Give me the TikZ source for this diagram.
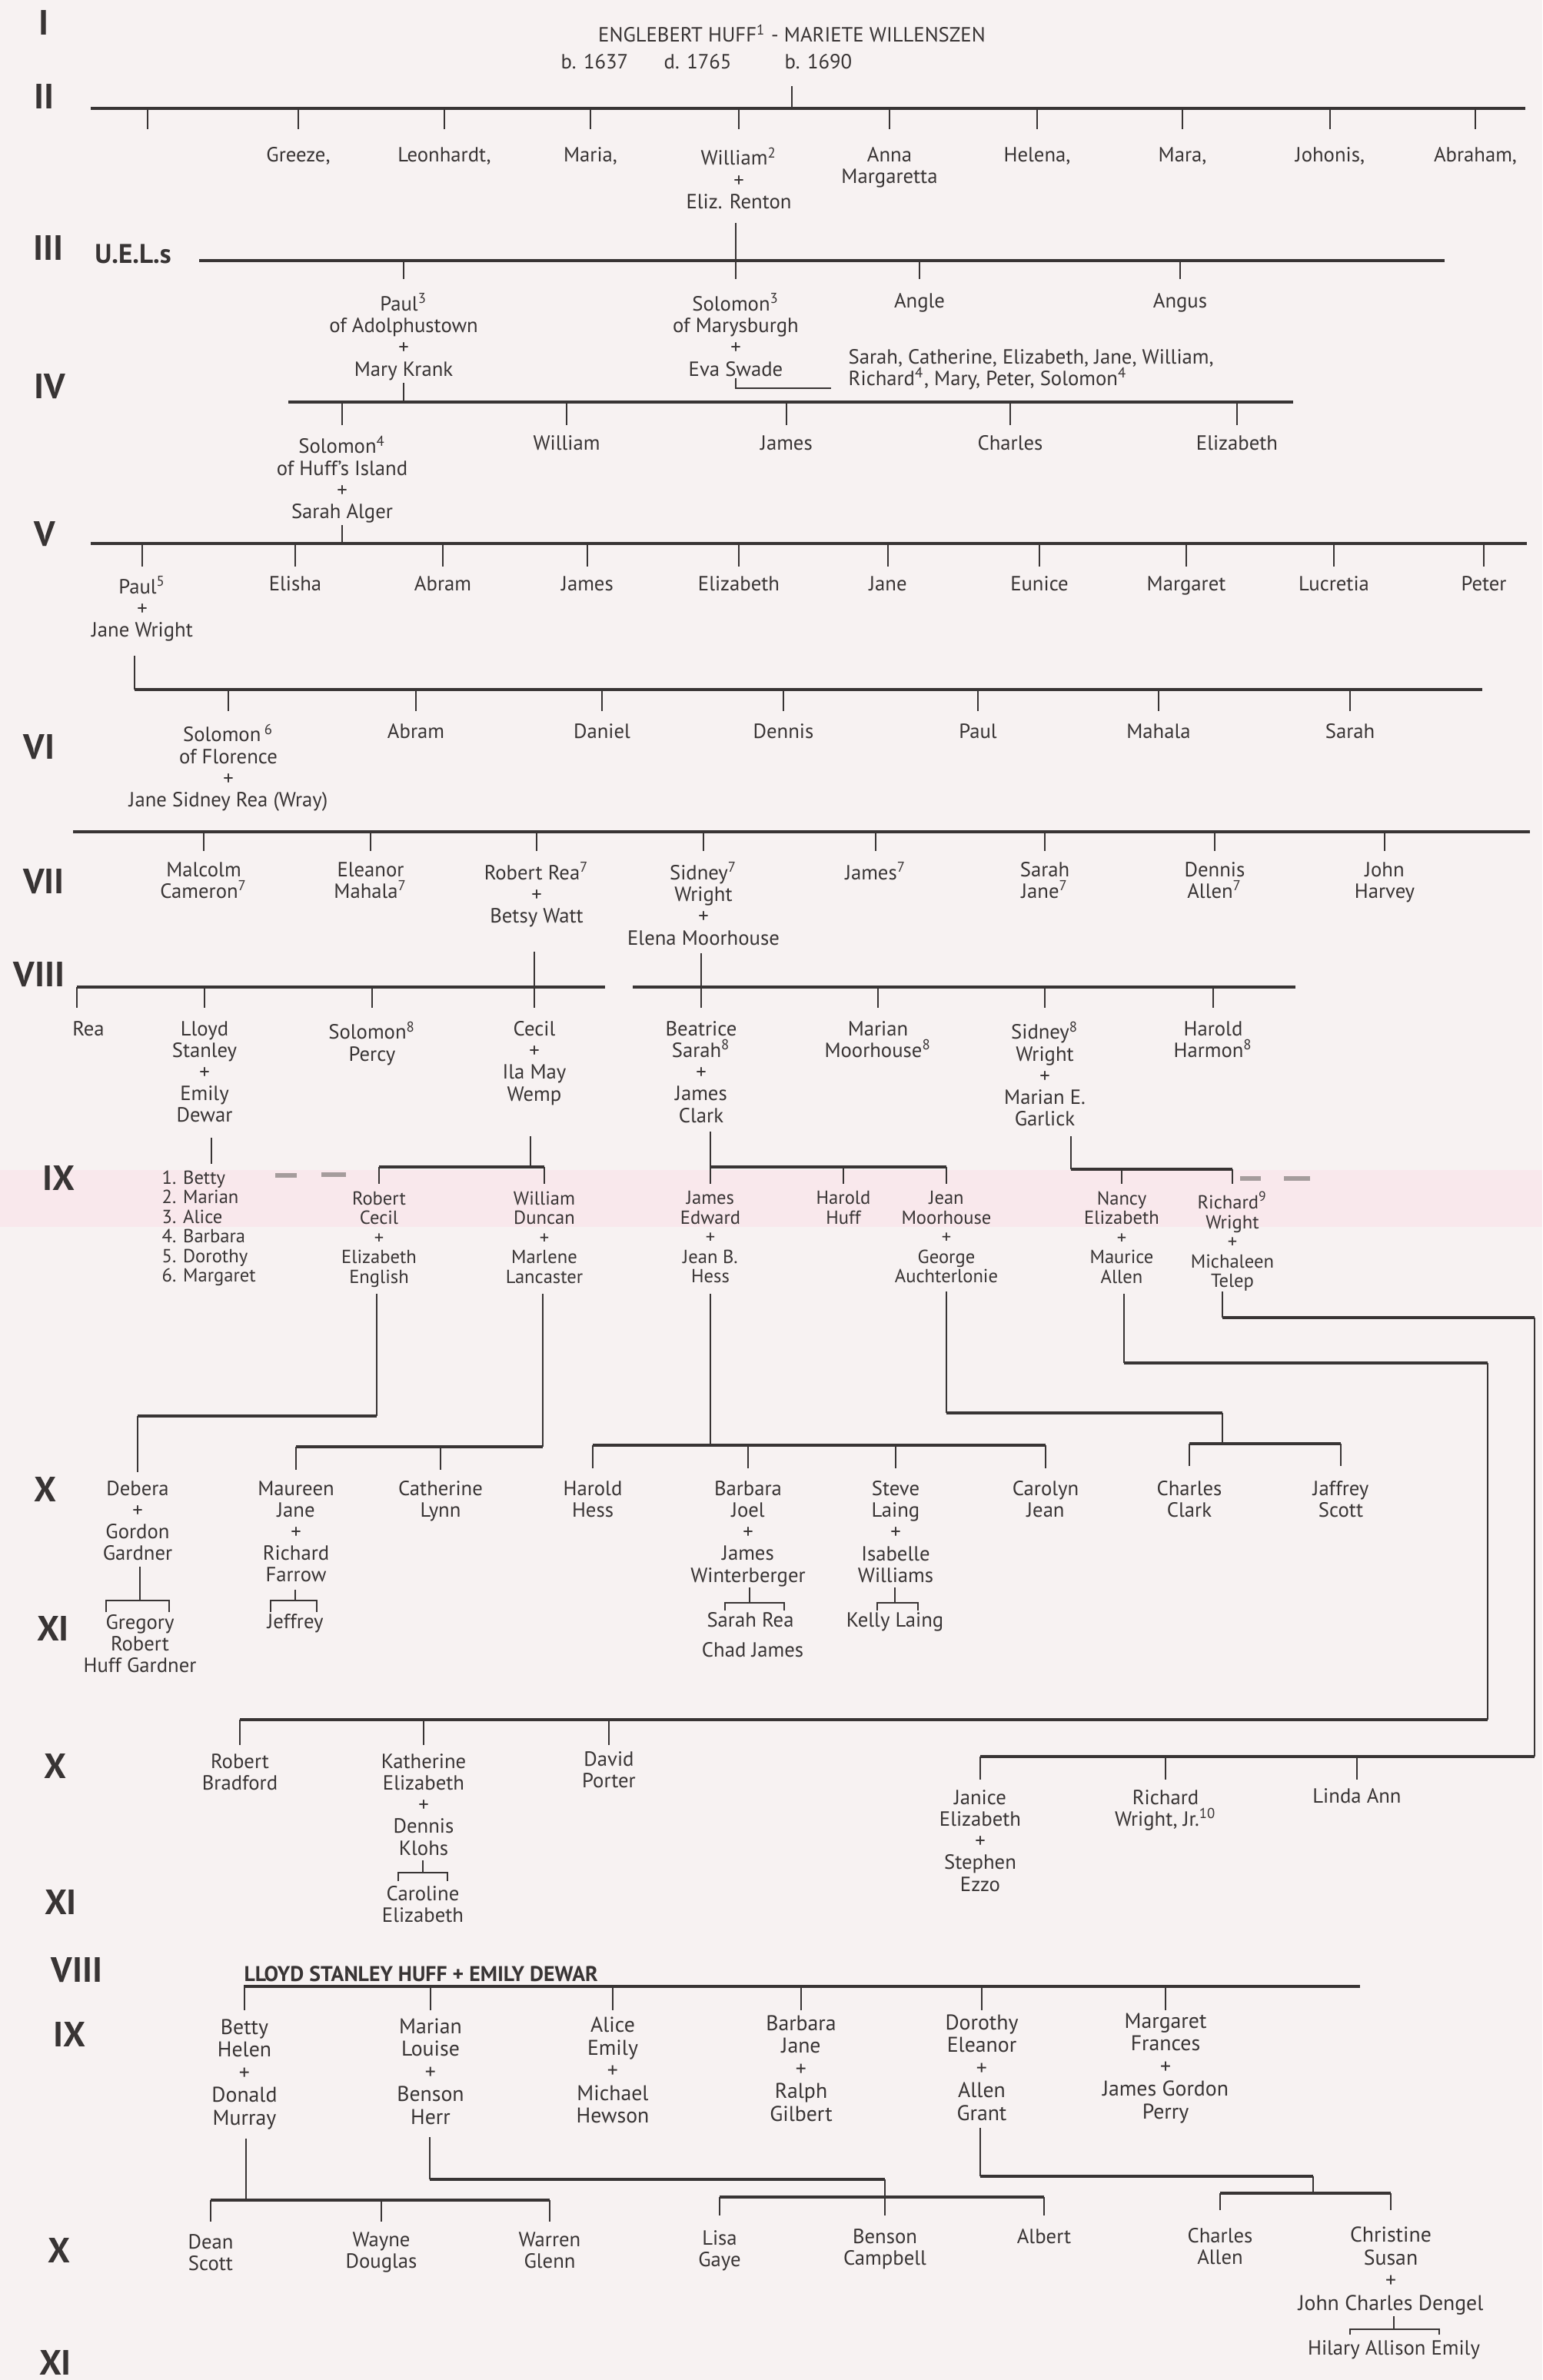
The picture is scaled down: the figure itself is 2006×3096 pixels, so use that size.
\documentclass[tikz,border=0pt]{standalone}
\usepackage{fontspec}
\setmainfont{PT Sans}
\usetikzlibrary{calc}
\definecolor{ink}{HTML}{383434}
\definecolor{paper}{HTML}{F7F2F2}
\definecolor{band}{HTML}{F9E8EC}
\definecolor{smudge}{HTML}{A59C9C}
\newcommand{\nmf}{\fontsize{7.6}{8}\selectfont}
\newcommand{\smf}{\fontsize{7}{7.25}\selectfont}
\newcommand{\lgf}{\fontsize{7.9}{8.4}\selectfont}
\newcommand{\rnf}{\fontsize{13}{13}\selectfont\bfseries}
\newcommand{\genno}[1]{\textsuperscript{#1}}
\begin{document}
\begin{tikzpicture}[x=0.1mm,y=-0.1mm,
  bar/.style={ink,line width=1.1pt},
  tk/.style={ink,line width=0.55pt},
  mk/.style={smudge,line width=1.6pt},
  nm/.style={anchor=north,inner sep=0pt,align=center,text=ink,font=\nmf},
  sm/.style={nm,font=\smf},
  lg/.style={nm,font=\lgf},
  rn/.style={inner sep=0pt,text=ink,font=\rnf}]
\useasboundingbox (0,0) rectangle (2006,3096);
\fill[paper] (0,0) rectangle (2006,3096);
\fill[band] (0,1522) rectangle (2006,1596);

% generations I and II
\node[rn] (g1) at (57,29) {I};
\node[rn] (g2) at (58,125) {II};
\node[nm] (eh) at (1030,31) {ENGLEBERT HUFF\genno{1} - MARIETE WILLENSZEN};
\node[nm,anchor=north west] (ehd) at (729,70) {\makebox[13.4mm][l]{b. 1637}\makebox[15.7mm][l]{d. 1765}b. 1690};
\coordinate (b2l) at (118,141);
\coordinate (b2r) at (1984,141);
\draw[bar] (b2l) -- (b2r);
\draw[tk] (eh |- b2l) -- ++(0,-29);
\coordinate (c2) at (192,168);
\draw[tk] (c2 |- b2l) -- (c2);
\node[nm] (greeze) at (388,191) {Greeze,};
\node[nm] (leonhardt) at (578,191) {Leonhardt,};
\node[nm] (maria) at (768,191) {Maria,};
\node[nm] (william) at (961,191) {William\genno{2}\\+\\Eliz. Renton};
\node[nm] (anna) at (1157,191) {Anna\\Margaretta};
\node[nm] (helena) at (1349,191) {Helena,};
\node[nm] (mara) at (1538,191) {Mara,};
\node[nm] (johonis) at (1730,191) {Johonis,};
\node[nm] (abraham) at (1919,191) {Abraham,};
\foreach \n in {greeze,leonhardt,maria,william,anna,helena,mara,johonis,abraham}
  \draw[tk] (\n |- b2l) -- ++(0,27);

% generation III
\node[rn] (g3) at (63,322) {III};
\node[rn,font=\fontsize{10}{10}\selectfont\bfseries] (uel) at (173,330) {U.E.L.s};
\coordinate (b3l) at (259,339);
\coordinate (b3r) at (1879,339);
\draw[bar] (b3l) -- (b3r);
\node[nm] (paul3) at (525,381) {Paul\genno{3}\\of Adolphustown\\+\\Mary Krank};
\node[nm] (solomon3) at (957,381) {Solomon\genno{3}\\of Marysburgh\\+\\Eva Swade};
\node[nm] (angle) at (1196,381) {Angle};
\node[nm] (angus) at (1535,381) {Angus};
\node[nm,anchor=north west,align=left] (sibs) at (1103,454) {Sarah, Catherine, Elizabeth, Jane, William,\\Richard\genno{4}, Mary, Peter, Solomon\genno{4}};
\draw[tk] (solomon3 |- b3l) ++(0,-49) -- ++(0,73);
\foreach \n in {paul3,angle,angus}
  \draw[tk] (\n |- b3l) -- ++(0,24);
\coordinate (sibx) at (1081,505);
\draw[tk] (solomon3 |- sibx) ++(0,-13) |- (sibx);

% generation IV
\node[rn] (g4) at (65,503) {IV};
\coordinate (b4l) at (375,523);
\coordinate (b4r) at (1682,523);
\draw[bar] (b4l) -- (b4r);
\draw[tk] (paul3 |- b4l) -- ++(0,-25);
\node[nm] (solomon4) at (445,566) {Solomon\genno{4}\\of Huff’s Island\\+\\Sarah Alger};
\node[nm] (william4) at (737,566) {William};
\node[nm] (james4) at (1023,566) {James};
\node[nm] (charles4) at (1314,566) {Charles};
\node[nm] (elizabeth4) at (1609,566) {Elizabeth};
\foreach \n in {solomon4,william4,james4,charles4,elizabeth4}
  \draw[tk] (\n |- b4l) -- ++(0,30);

% generation V
\node[rn] (g5) at (58,695) {V};
\coordinate (b5l) at (118,707);
\coordinate (b5r) at (1986,707);
\draw[bar] (b5l) -- (b5r);
\draw[tk] (solomon4 |- b5l) -- ++(0,-24);
\node[nm] (paul5) at (185,749) {Paul\genno{5}\\+\\Jane Wright};
\node[nm] (elisha) at (384,749) {Elisha};
\node[nm] (abram5) at (576,749) {Abram};
\node[nm] (james5) at (764,749) {James};
\node[nm] (elizabeth5) at (961,749) {Elizabeth};
\node[nm] (jane5) at (1155,749) {Jane};
\node[nm] (eunice) at (1352,749) {Eunice};
\node[nm] (margaret5) at (1543,749) {Margaret};
\node[nm] (lucretia) at (1735,749) {Lucretia};
\node[nm] (peter5) at (1930,749) {Peter};
\foreach \n in {paul5,elisha,abram5,james5,elizabeth5,jane5,eunice,margaret5,lucretia,peter5}
  \draw[tk] (\n |- b5l) -- ++(0,30);

% generation VI
\node[rn] (g6) at (51,972) {VI};
\coordinate (b6l) at (175,897);
\coordinate (b6r) at (1928,897);
\draw[bar] (b6l) -- (b6r);
\draw[tk] (b6l) -- ++(0,-44);
\node[nm] (solomon6) at (297,941) {Solomon\,\genno{6}\\of Florence\\+\\Jane Sidney Rea (Wray)};
\node[nm] (abram6) at (541,941) {Abram};
\node[nm] (daniel) at (783,941) {Daniel};
\node[nm] (dennis6) at (1019,941) {Dennis};
\node[nm] (paul6) at (1272,941) {Paul};
\node[nm] (mahala) at (1507,941) {Mahala};
\node[nm] (sarah6) at (1756,941) {Sarah};
\foreach \n in {solomon6,abram6,daniel,dennis6,paul6,mahala,sarah6}
  \draw[tk] (\n |- b6l) -- ++(0,28);

% generation VII
\node[rn] (g7) at (57,1147) {VII};
\coordinate (b7l) at (95,1082);
\coordinate (b7r) at (1990,1082);
\draw[bar] (b7l) -- (b7r);
\node[nm] (malcolm) at (265,1121) {Malcolm\\Cameron\genno{7}};
\node[nm] (eleanor7) at (482,1121) {Eleanor\\Mahala\genno{7}};
\node[nm] (robert7) at (698,1121) {Robert Rea\genno{7}\\+\\Betsy Watt};
\node[nm] (sidney7) at (915,1121) {Sidney\genno{7}\\Wright\\+\\Elena Moorhouse};
\node[nm] (james7) at (1139,1121) {James\genno{7}};
\node[nm] (sarah7) at (1359,1121) {Sarah\\Jane\genno{7}};
\node[nm] (dennis7) at (1580,1121) {Dennis\\Allen\genno{7}};
\node[nm] (john7) at (1801,1121) {John\\Harvey};
\foreach \n in {malcolm,eleanor7,robert7,sidney7,james7,sarah7,dennis7,john7}
  \draw[tk] (\n |- b7l) -- ++(0,25);

% generation VIII
\node[rn] (g8) at (51,1268) {VIII};
\coordinate (b8l) at (100,1284);
\coordinate (b8m) at (787,1284);
\coordinate (b8n) at (823,1284);
\coordinate (b8r) at (1685,1284);
\draw[bar] (b8l) -- (b8m);
\draw[bar] (b8n) -- (b8r);
\node[nm] (rea8) at (115,1328) {Rea};
\node[nm] (lloyd) at (266,1328) {Lloyd\\Stanley\\+\\Emily\\Dewar};
\node[nm] (solomon8) at (484,1328) {Solomon\genno{8}\\Percy};
\node[nm] (cecil) at (695,1328) {Cecil\\+\\Ila May\\Wemp};
\node[nm] (beatrice) at (912,1328) {Beatrice\\Sarah\genno{8}\\+\\James\\Clark};
\node[nm] (marian8) at (1142,1328) {Marian\\Moorhouse\genno{8}};
\node[nm] (sidney8) at (1359,1328) {Sidney\genno{8}\\Wright\\+\\Marian E.\\Garlick};
\node[nm] (harold8) at (1578,1328) {Harold\\Harmon\genno{8}};
\draw[tk] (cecil |- b8l) ++(0,-46) -- ++(0,73);
\draw[tk] (beatrice |- b8l) ++(0,-44) -- ++(0,71);
\draw[tk] (b8l) -- ++(0,27);
\foreach \n in {lloyd,solomon8,marian8,sidney8,harold8}
  \draw[tk] (\n |- b8l) -- ++(0,27);

% generation IX
\node[rn] (g9) at (76,1532) {IX};
\coordinate (ll) at (275,1514);
\draw[tk] (ll) -- ++(0,-34);
\node[sm,anchor=north west,align=left] (kids) at (210,1522) {1. Betty\\2. Marian\\3. Alice\\4. Barbara\\5. Dorothy\\6. Margaret};
\draw[mk] (358,1529) -- (386,1529);
\draw[mk] (418,1528) -- (450,1528);
\draw[mk] (1613,1533) -- (1640,1533);
\draw[mk] (1670,1533) -- (1704,1533);
\node[sm] (robert9) at (493,1549) {Robert\\Cecil\\+\\Elizabeth\\English};
\node[sm] (william9) at (708,1549) {William\\Duncan\\+\\Marlene\\Lancaster};
\node[sm] (james9) at (924,1549) {James\\Edward\\+\\Jean B.\\Hess};
\node[sm] (harold9) at (1097,1549) {Harold\\Huff};
\node[sm] (jean9) at (1231,1549) {Jean\\Moorhouse\\+\\George\\Auchterlonie};
\node[sm] (nancy) at (1459,1549) {Nancy\\Elizabeth\\+\\Maurice\\Allen};
\node[sm] (richard9) at (1603,1549) {Richard\genno{9}\\Wright\\+\\Michaleen\\Telep};
\coordinate (b9c) at (690,1518);
\draw[tk] (b9c) -- ++(0,-40);
\draw[bar] (robert9 |- b9c) -- (william9 |- b9c);
\foreach \n in {robert9,william9}
  \draw[tk] (\n |- b9c) -- ++(0,22);
\coordinate (b9b) at (924,1518);
\draw[tk] (b9b) ++(0,-46) -- ++(0,68);
\draw[bar] (b9b) -- (jean9 |- b9b);
\foreach \n in {harold9,jean9}
  \draw[tk] (\n |- b9b) -- ++(0,22);
\coordinate (b9s) at (1393,1521);
\draw[tk] (b9s) -- ++(0,-43);
\draw[bar] (b9s) -- (richard9 |- b9s);
\foreach \n in {nancy,richard9}
  \draw[tk] (\n |- b9s) -- ++(0,19);

% generation X, first group
\node[rn] (g10) at (59,1937) {X};
\node[nm] (debera) at (179,1926) {Debera\\+\\Gordon\\Gardner};
\node[nm] (maureen) at (385,1926) {Maureen\\Jane\\+\\Richard\\Farrow};
\node[nm] (catherine) at (573,1926) {Catherine\\Lynn};
\node[nm] (haroldx) at (771,1926) {Harold\\Hess};
\node[nm] (barbarax) at (973,1926) {Barbara\\Joel\\+\\James\\Winterberger};
\node[nm] (stevex) at (1165,1926) {Steve\\Laing\\+\\Isabelle\\Williams};
\node[nm] (carolyn) at (1360,1926) {Carolyn\\Jean};
\node[nm] (charlesx) at (1547,1926) {Charles\\Clark};
\node[nm] (jaffrey) at (1744,1926) {Jaffrey\\Scott};
\coordinate (b10a) at (490,1842);
\draw[tk] (b10a) -- ++(0,-159);
\draw[bar] (debera |- b10a) -- (b10a);
\draw[tk] (debera |- b10a) -- ++(0,73);
\coordinate (b10b) at (706,1882);
\draw[tk] (b10b) -- ++(0,-199);
\draw[bar] (maureen |- b10b) -- (b10b);
\foreach \n in {maureen,catherine}
  \draw[tk] (\n |- b10b) -- ++(0,30);
\coordinate (b10c) at (924,1880);
\draw[tk] (b10c) -- ++(0,-197);
\draw[bar] (haroldx |- b10c) -- (carolyn |- b10c);
\foreach \n in {haroldx,barbarax,stevex,carolyn}
  \draw[tk] (\n |- b10c) -- ++(0,30);
\coordinate (b10d) at (1231,1838);
\coordinate (b10e) at (1590,1878);
\draw[tk] (b10d) -- ++(0,-158);
\draw[bar] (b10d) -- (b10d -| b10e);
\draw[tk] (b10d -| b10e) -- (b10e);
\draw[bar] (charlesx |- b10e) -- (jaffrey |- b10e);
\foreach \n in {charlesx,jaffrey}
  \draw[tk] (\n |- b10e) -- ++(0,29);

% generation XI, first group
\node[rn] (g11) at (69,2118) {XI};
\node[nm] (gregory) at (182,2100) {Gregory\\Robert\\Huff Gardner};
\node[nm] (jeffrey) at (384,2099) {Jeffrey};
\node[nm] (sarahrea) at (976,2097) {Sarah Rea};
\node[nm] (chad) at (979,2136) {Chad James};
\node[nm] (kelly) at (1164,2097) {Kelly Laing};
\coordinate (k1) at (182,2082);
\draw[tk] (k1) -- ++(0,-44);
\draw[tk] (k1) ++(-44,15) |- ++(82,-15) -- ++(0,15);
\coordinate (k2) at (384,2082);
\draw[tk] (k2) -- ++(0,-14);
\draw[tk] (k2) ++(-32,15) |- ++(60,-15) -- ++(0,15);
\coordinate (k3) at (975,2085);
\draw[tk] (k3) -- ++(0,-20);
\draw[tk] (k3) ++(-32,10) |- ++(77,-10) -- ++(0,10);
\coordinate (k4) at (1164,2085);
\draw[tk] (k4) -- ++(0,-20);
\draw[tk] (k4) ++(-23,10) |- ++(53,-10) -- ++(0,10);

% generation X, second group
\node[rn] (g10b) at (72,2297) {X};
\node[nm] (robertx) at (312,2281) {Robert\\Bradford};
\node[nm] (katherine) at (551,2281) {Katherine\\Elizabeth\\+\\Dennis\\Klohs};
\node[nm] (david) at (792,2278) {David\\Porter};
\node[nm] (janice) at (1275,2328) {Janice\\Elizabeth\\+\\Stephen\\Ezzo};
\node[nm] (richardx) at (1516,2328) {Richard\\Wright, Jr.\genno{10}};
\node[nm] (linda) at (1765,2326) {Linda Ann};
\coordinate (b10f) at (1935,1773);
\coordinate (n9) at (1462,1773);
\draw[tk] (n9) -- ++(0,-90);
\draw[bar] (n9) -- (b10f);
\coordinate (b10g) at (1935,2237);
\draw[tk] (b10f) -- (b10g);
\draw[bar] (robertx |- b10g) -- (b10g);
\foreach \n in {robertx,katherine,david}
  \draw[tk] (\n |- b10g) -- ++(0,33);
\coordinate (b10h) at (1996,1714);
\coordinate (r9) at (1590,1714);
\draw[tk] (r9) -- ++(0,-34);
\draw[bar] (r9) -- (b10h);
\coordinate (b10i) at (1996,2285);
\draw[tk] (b10h) -- (b10i);
\draw[bar] (janice |- b10i) -- (b10i);
\foreach \n in {janice,richardx,linda}
  \draw[tk] (\n |- b10i) -- ++(0,30);

% generation XI, second group
\node[rn] (g11b) at (79,2474) {XI};
\node[nm] (caroline) at (550,2453) {Caroline\\Elizabeth};
\coordinate (k5) at (550,2436);
\draw[tk] (k5) -- ++(0,-16);
\draw[tk] (k5) ++(-32,11) |- ++(64,-11) -- ++(0,11);

% Lloyd Stanley Huff + Emily Dewar
\node[rn] (g8b) at (100,2563) {VIII};
\node[anchor=base west,inner sep=0pt,text=ink,font=\fontsize{7.9}{8}\selectfont\bfseries] (lsh) at (317,2577) {LLOYD STANLEY HUFF + EMILY DEWAR};
\coordinate (b8l2) at (317,2584);
\coordinate (b8r2) at (1769,2584);
\draw[bar] (b8l2) -- (b8r2);
\node[rn] (g9b) at (90,2646) {IX};
\node[lg] (betty) at (318,2626) {Betty\\Helen\\+\\Donald\\Murray};
\node[lg] (marianl) at (560,2625) {Marian\\Louise\\+\\Benson\\Herr};
\node[lg] (alice) at (797,2623) {Alice\\Emily\\+\\Michael\\Hewson};
\node[lg] (barbaral) at (1042,2621) {Barbara\\Jane\\+\\Ralph\\Gilbert};
\node[lg] (dorothy) at (1277,2620) {Dorothy\\Eleanor\\+\\Allen\\Grant};
\node[lg] (margaret) at (1516,2618) {Margaret\\Frances\\+\\James Gordon\\Perry};
\foreach \n in {betty,marianl,alice,barbaral,dorothy,margaret}
  \draw[tk] (\n |- b8l2) -- ++(0,31);

\node[rn] (g10c) at (77,2927) {X};
\node[nm] (dean) at (274,2906) {Dean\\Scott};
\node[nm] (wayne) at (496,2903) {Wayne\\Douglas};
\node[nm] (warren) at (715,2903) {Warren\\Glenn};
\node[nm] (lisa) at (936,2901) {Lisa\\Gaye};
\node[nm] (benson) at (1151,2899) {Benson\\Campbell};
\node[nm] (albert) at (1358,2899) {Albert};
\node[nm] (charlesl) at (1587,2898) {Charles\\Allen};
\node[lg] (christine) at (1809,2896) {Christine\\Susan\\+\\John Charles Dengel};
\coordinate (b11a) at (320,2862);
\draw[tk] (b11a) -- ++(0,-80);
\draw[bar] (dean |- b11a) -- (warren |- b11a);
\foreach \n in {dean,wayne,warren}
  \draw[tk] (\n |- b11a) -- ++(0,28);
\coordinate (b11b) at (559,2835);
\coordinate (b11c) at (1151,2858);
\draw[tk] (b11b) -- ++(0,-55);
\draw[bar] (b11b) -- (b11b -| b11c);
\draw[tk] (b11b -| b11c) -- (b11c);
\draw[bar] (lisa |- b11c) -- (albert |- b11c);
\foreach \n in {lisa,benson,albert}
  \draw[tk] (\n |- b11c) -- ++(0,24);
\coordinate (b11d) at (1275,2831);
\coordinate (b11e) at (1708,2853);
\draw[tk] (b11d) -- ++(0,-63);
\draw[bar] (b11d) -- (b11d -| b11e);
\draw[tk] (b11d -| b11e) -- (b11e);
\draw[bar] (charlesl |- b11e) -- (christine |- b11e);
\foreach \n in {charlesl,christine}
  \draw[tk] (\n |- b11e) -- ++(0,22);

\node[rn] (g11c) at (72,3073) {XI};
\node[nm] (hilary) at (1813,3044) {Hilary Allison Emily};
\coordinate (k6) at (1813,3030);
\draw[tk] (k6) -- ++(0,-17);
\draw[tk] (k6) ++(-57,7) |- ++(116,-7) -- ++(0,7);
\end{tikzpicture}
\end{document}
